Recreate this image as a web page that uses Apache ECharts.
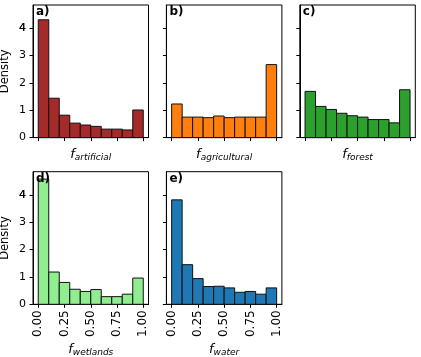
<!DOCTYPE html>
<html>
<head>
<meta charset="utf-8">
<script src="https://cdn.jsdelivr.net/npm/echarts@6/dist/echarts.min.js"></script>
<style>
  html, body { margin: 0; padding: 0; background: #fff; }
  #main { width: 421px; height: 357px; }
</style>
</head>
<body>
<div id="main"></div>
<script>
// bin edges, shared by all panels
var binEdges = [0.0, 0.1, 0.2, 0.3, 0.4, 0.5, 0.6, 0.7, 0.8, 0.9, 1.0];
var xTicks = [0, 0.25, 0.5, 0.75, 1];
var xTickLabels = ['0.00', '0.25', '0.50', '0.75', '1.00'];
var yTicks = [0, 1, 2, 3, 4];

// densities per land-cover class
var artificial   = [4.31, 1.44, 0.82, 0.53, 0.46, 0.41, 0.31, 0.31, 0.28, 1.01];
var agricultural = [1.23, 0.75, 0.75, 0.73, 0.79, 0.73, 0.75, 0.75, 0.75, 2.67];
var forest       = [1.69, 1.14, 1.03, 0.89, 0.80, 0.75, 0.66, 0.66, 0.54, 1.75];
var wetlands     = [4.58, 1.18, 0.80, 0.55, 0.47, 0.54, 0.28, 0.28, 0.37, 0.96];
var water        = [3.82, 1.45, 0.94, 0.65, 0.66, 0.60, 0.44, 0.47, 0.37, 0.60];

var panels = [
  {tag: 'a)', name: 'artificial',   vals: artificial,   color: '#a52a2a', left: 33,    top: 5},
  {tag: 'b)', name: 'agricultural', vals: agricultural, color: '#ff7f0e', left: 166.4, top: 5},
  {tag: 'c)', name: 'forest',       vals: forest,       color: '#2ca02c', left: 299.8, top: 5},
  {tag: 'd)', name: 'wetlands',     vals: wetlands,     color: '#90ee90', left: 33,    top: 171.7},
  {tag: 'e)', name: 'water',        vals: water,        color: '#1f77b4', left: 166.4, top: 171.7}
];

var W = 115.5, H = 132.6;
var font = 'DejaVu Sans';

var grids = [], xAxes = [], yAxes = [], series = [], graphics = [];

panels.forEach(function (p, i) {
  var bottomRow = i >= 3;
  var leftCol = (i === 0 || i === 3);
  grids.push({
    left: p.left, top: p.top, width: W, height: H,
    outerBoundsMode: 'none',
    show: true, borderColor: '#000', borderWidth: 1, backgroundColor: 'transparent'
  });
  xAxes.push({
    type: 'value', gridIndex: i, min: -0.05, max: 1.05,
    name: '{f|f}{s|' + p.name + '}',
    nameLocation: 'middle',
    nameGap: bottomRow ? 37 : 9,
    nameMoveOverlap: false,
    nameTextStyle: {
      rich: {
        f: {fontFamily: font, fontStyle: 'italic', fontSize: 13, color: '#000'},
        s: {fontFamily: font, fontStyle: 'italic', fontSize: 9, color: '#000', padding: [7, 0, 0, 0]}
      }
    },
    splitLine: {show: false},
    axisLine: {show: true, onZero: false, lineStyle: {color: '#000', width: 1}},
    axisTick: {show: true, length: 3.5, customValues: xTicks, lineStyle: {color: '#000'}},
    axisLabel: {
      show: bottomRow, customValues: xTicks, rotate: 90, margin: 6,
      showMinLabel: true, showMaxLabel: true, hideOverlap: false,
      fontFamily: font, fontSize: 12, color: '#000',
      formatter: function (v) { return xTickLabels[xTicks.indexOf(v)]; }
    }
  });
  yAxes.push({
    type: 'value', gridIndex: i, min: 0, max: 4.85,
    name: leftCol ? 'Density' : '',
    nameLocation: 'middle', nameGap: 22, nameMoveOverlap: false,
    nameTextStyle: {fontFamily: font, fontSize: 11.5, color: '#000'},
    splitLine: {show: false},
    axisLine: {show: true, onZero: false, lineStyle: {color: '#000', width: 1}},
    axisTick: {show: true, length: 3.5, customValues: yTicks, lineStyle: {color: '#000'}},
    axisLabel: {
      show: leftCol, customValues: yTicks, margin: 7,
      showMinLabel: true, showMaxLabel: true, hideOverlap: false,
      fontFamily: font, fontSize: 11, color: '#000',
      formatter: function (v) { return String(v); }
    }
  });
  var data = p.vals.map(function (v, k) { return [binEdges[k], binEdges[k + 1], v]; });
  series.push({
    type: 'custom', xAxisIndex: i, yAxisIndex: i, data: data, silent: true,
    renderItem: function (params, api) {
      var a = api.coord([api.value(0), api.value(2)]);
      var b = api.coord([api.value(1), 0]);
      return {
        type: 'rect',
        shape: {x: a[0], y: a[1], width: b[0] - a[0], height: b[1] - a[1]},
        style: {fill: p.color, stroke: '#111', lineWidth: 1}
      };
    }
  });
  graphics.push({
    type: 'text', id: 'tag' + i, left: p.left + 3, top: p.top + 1, z: 100,
    style: {text: p.tag, fontFamily: font, fontWeight: 'bold', fontSize: 12, fill: '#000'}
  });
});

var myChart = echarts.init(document.getElementById('main'));
myChart.setOption({
  animation: false,
  backgroundColor: '#fff',
  grid: grids,
  xAxis: xAxes,
  yAxis: yAxes,
  series: series,
  graphic: graphics
});

// the top tick label ("4") gets dropped by the axis layout, so put it back by hand
var extra = [];
[0, 3].forEach(function (gi) {
  var top = yTicks[yTicks.length - 1];
  var px = myChart.convertToPixel({gridIndex: gi}, [-0.05, top]);
  if (px && isFinite(px[0]) && isFinite(px[1])) {
    extra.push({
      type: 'text', id: 'ytop' + gi, x: px[0] - 7, y: px[1], z: 100, silent: true,
      style: {text: String(top), fontFamily: font, fontSize: 11, fill: '#000',
              align: 'right', verticalAlign: 'middle'}
    });
  }
});
if (extra.length) {
  myChart.setOption({graphic: extra});
}
</script>
</body>
</html>
